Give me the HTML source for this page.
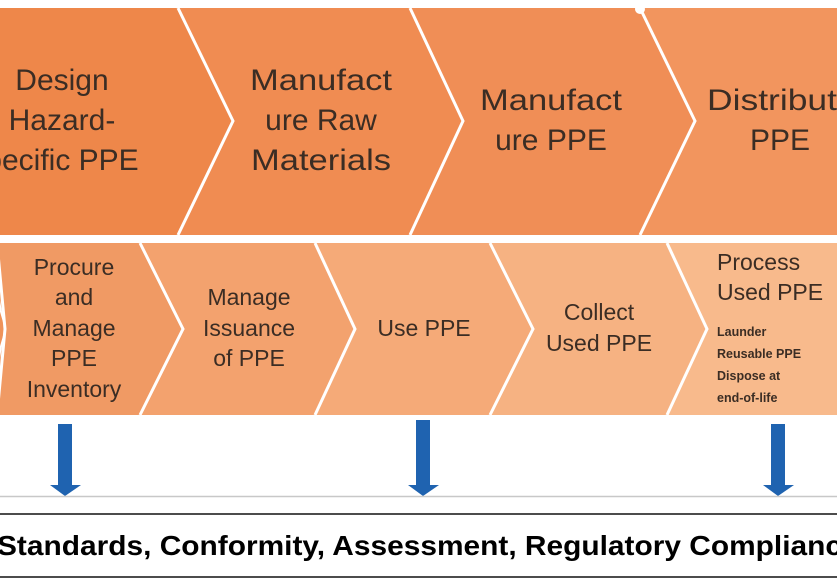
<!DOCTYPE html>
<html><head><meta charset="utf-8"><style>
html,body{margin:0;padding:0;background:#fff;width:837px;height:586px;overflow:hidden}
svg text{font-family:"Liberation Sans",sans-serif;fill:#3b2d24}
</style></head><body>
<svg width="837" height="586" viewBox="0 0 837 586">
<polygon points="-10,8 178,8 233,121 178,235 -10,235" fill="#ee874a"/>
<polygon points="178,8 410,8 463,121 410,235 178,235 233,121" fill="#f08c52"/>
<polygon points="410,8 640,8 695,121 640,235 410,235 463,121" fill="#f08e56"/>
<polygon points="640,8 850,8 850,235 640,235 695,121" fill="#f2955e"/>
<g stroke="#fff" stroke-width="3" fill="none">
<polyline points="178,8 233,121 178,235"/>
<polyline points="410,8 463,121 410,235"/>
<polyline points="640,8 695,121 640,235"/>
</g>
<circle cx="640" cy="9" r="5" fill="#fff"/>
<g font-size="30" text-anchor="middle">
<text x="62" y="90">Design</text>
<text x="62" y="130">Hazard-</text>
<text x="62" y="170">pecific PPE</text>
<text x="321" y="90" textLength="142" lengthAdjust="spacingAndGlyphs">Manufact</text>
<text x="321" y="130">ure Raw</text>
<text x="321" y="170" textLength="140" lengthAdjust="spacingAndGlyphs">Materials</text>
<text x="551" y="110" textLength="142" lengthAdjust="spacingAndGlyphs">Manufact</text>
<text x="551" y="150">ure PPE</text>
<text x="772" y="110" textLength="130" lengthAdjust="spacingAndGlyphs">Distribut</text>
<text x="780" y="150">PPE</text>
</g>
<polygon points="-20,243 5,329 -20,415" fill="#ef935a"/>
<polygon points="-10,243 140,243 183,329 140,415 -10,415 5,329" fill="#f09a64"/>
<polygon points="140,243 315,243 355,329 315,415 140,415 183,329" fill="#f3a26e"/>
<polygon points="315,243 490,243 533,329 490,415 315,415 355,329" fill="#f5aa78"/>
<polygon points="490,243 667,243 707,329 667,415 490,415 533,329" fill="#f6b282"/>
<polygon points="667,243 850,243 850,415 667,415 707,329" fill="#f8ba8c"/>
<g stroke="#fff" stroke-width="3" fill="none">
<polyline points="-3,243 5,329 -3,415"/>
<polyline points="140,243 183,329 140,415"/>
<polyline points="315,243 355,329 315,415"/>
<polyline points="490,243 533,329 490,415"/>
<polyline points="667,243 707,329 667,415"/>
</g>
<g font-size="23" text-anchor="middle">
<text x="74" y="275">Procure</text>
<text x="74" y="305">and</text>
<text x="74" y="336">Manage</text>
<text x="74" y="366">PPE</text>
<text x="74" y="397">Inventory</text>
<text x="249" y="305">Manage</text>
<text x="249" y="336">Issuance</text>
<text x="249" y="366">of PPE</text>
<text x="424" y="336">Use PPE</text>
<text x="599" y="320">Collect</text>
<text x="599" y="351">Used PPE</text>
</g>
<g font-size="23">
<text x="717" y="270">Process</text>
<text x="717" y="300">Used PPE</text>
</g>
<g font-size="12.5" font-weight="bold">
<text x="717" y="336">Launder</text>
<text x="717" y="358">Reusable PPE</text>
<text x="717" y="380">Dispose at</text>
<text x="717" y="402">end-of-life</text>
</g>
<g fill="#1f63b0">
<rect x="58" y="424" width="14" height="62"/><polygon points="50,485 81,485 65,496"/>
<rect x="416" y="420" width="14" height="66"/><polygon points="408,485 439,485 423,496"/>
<rect x="771" y="424" width="14" height="62"/><polygon points="763,485 794,485 778,496"/>
</g>
<line x1="0" y1="496.5" x2="837" y2="496.5" stroke="#c8c8c8" stroke-width="1.5"/>
<line x1="0" y1="514" x2="837" y2="514" stroke="#111" stroke-width="1.5"/>
<line x1="0" y1="577" x2="837" y2="577" stroke="#111" stroke-width="1.5"/>
<text x="-3" y="555" font-size="28" font-weight="bold" style="fill:#000" textLength="845" lengthAdjust="spacingAndGlyphs">Standards, Conformity, Assessment, Regulatory Complianc</text>
</svg>
</body></html>
